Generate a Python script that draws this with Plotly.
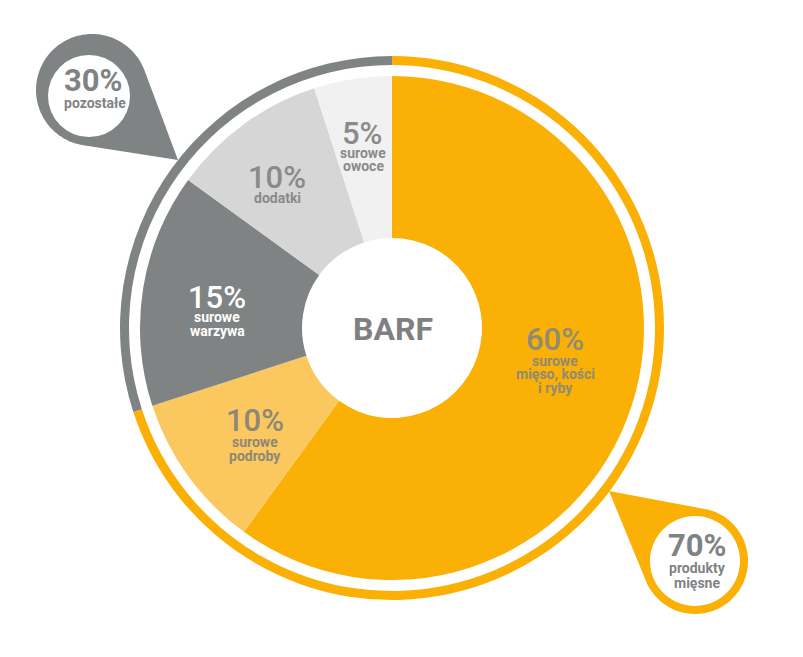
import numpy as np
import plotly.graph_objects as go

W, H = 803, 657
OFF = 8  # default page body margin

# ---- data ----
slice_labels = ["surowe mięso, kości i ryby", "surowe podroby", "surowe warzywa", "dodatki", "surowe owoce"]
slice_values = [60, 10, 15, 10, 5]
slice_colors = ["#FAB005", "#FAC85E", "#7F8383", "#D6D6D6", "#F1F1F1"]

group_labels = ["produkty mięsne", "pozostałe"]
group_values = [70, 30]
group_colors = ["#FAB005", "#808384"]

center_label = "BARF"

# ---- geometry helpers (pixels -> paper) ----
CX, CY = 392, 328
R_PIE, R_HOLE = 252, 90
R_RING_OUT, R_RING_IN = 272, 263


def px(x):
    return (x - OFF) / W


def py(y):
    return 1 - (y - OFF) / H


def dom(r):
    return dict(x=[px(CX - r), px(CX + r)], y=[py(CY + r), py(CY - r)])


fig = go.Figure()

fig.add_trace(go.Pie(
    labels=group_labels, values=group_values, sort=False, direction="clockwise",
    rotation=0, hole=R_RING_IN / R_RING_OUT, domain=dom(R_RING_OUT),
    marker=dict(colors=group_colors, line=dict(width=0)),
    textinfo="none", hoverinfo="label+percent", showlegend=False,
))

fig.add_trace(go.Pie(
    labels=slice_labels, values=slice_values, sort=False, direction="clockwise",
    rotation=0, hole=R_HOLE / R_PIE, domain=dom(R_PIE),
    marker=dict(colors=slice_colors, line=dict(width=0)),
    textinfo="none", hoverinfo="label+percent", showlegend=False,
))


def teardrop(cx, cy, r, tx, ty, n=80):
    d = np.hypot(tx - cx, ty - cy)
    th = np.arctan2(ty - cy, tx - cx)
    a = np.arccos(r / d)
    angs = np.linspace(th + a, th + 2 * np.pi - a, n)
    pts = [(tx, ty)] + [(cx + r * np.cos(t), cy + r * np.sin(t)) for t in angs]
    return "M " + " L ".join(f"{px(x):.5f},{py(y):.5f}" for x, y in pts) + " Z"


def circle(cx, cy, r, color):
    return dict(type="circle", xref="paper", yref="paper",
                x0=px(cx - r), x1=px(cx + r), y0=py(cy + r), y1=py(cy - r),
                fillcolor=color, line=dict(width=0), layer="above")


shapes = [
    dict(type="path", xref="paper", yref="paper", path=teardrop(92, 90, 56, 178, 160),
         fillcolor=group_colors[1], line=dict(width=0), layer="above"),
    circle(89, 96, 41, "white"),
    dict(type="path", xref="paper", yref="paper", path=teardrop(695, 561, 53, 609, 491),
         fillcolor=group_colors[0], line=dict(width=0), layer="above"),
    circle(695, 561, 45, "white"),
]

FONT = "Roboto"
anns = []


def txt(x, y, s, size, color, weight=400):
    anns.append(dict(x=px(x), y=py(y), xref="paper", yref="paper", text=s, showarrow=False,
                     xanchor="center", yanchor="middle",
                     font=dict(family=FONT, size=size, color=color, weight=weight)))


BIG = 31
SM = 14
c_orange = "#8E8B76"
c_lorange = "#8D877A"
c_gray = "#8A8A8A"
c_white = "#FFFFFF"

# 60%
txt(555, 339, f"{slice_values[0]}%", BIG, c_orange, 500)
txt(555, 361, "surowe", SM, c_orange, 700)
txt(555, 374, "mięso, kości", SM, c_orange, 700)
txt(555, 388, "i ryby", SM, c_orange, 700)
# 10% podroby
txt(255, 420, f"{slice_values[1]}%", BIG, c_lorange, 500)
txt(255, 442, "surowe", SM, c_lorange, 700)
txt(255, 456, "podroby", SM, c_lorange, 700)
# 15% warzywa
txt(217, 297, f"{slice_values[2]}%", BIG, c_white, 500)
txt(217, 317, "surowe", SM, c_white, 700)
txt(217, 331, "warzywa", SM, c_white, 700)
# 10% dodatki
txt(277, 177, f"{slice_values[3]}%", BIG, c_gray, 500)
txt(277, 198, "dodatki", SM, c_gray, 700)
# 5% owoce
txt(362, 133, f"{slice_values[4]}%", BIG, c_gray, 500)
txt(363, 153, "surowe", SM, c_gray, 700)
txt(363, 166, "owoce", SM, c_gray, 700)
# center
txt(393, 329, center_label, 32, "#808080", 700)
# bubbles
txt(93, 80, f"{group_values[1]}%", BIG, "#7F8383", 700)
txt(95, 103, group_labels[1], SM, "#7F8383", 700)
txt(697, 545, f"{group_values[0]}%", BIG, "#7F8383", 700)
txt(697, 568, "produkty", SM, "#7F8383", 700)
txt(697, 583, "mięsne", SM, "#7F8383", 700)

fig.update_layout(
    width=W, height=H, margin=dict(l=0, r=0, t=0, b=0),
    paper_bgcolor="white", plot_bgcolor="white",
    shapes=shapes, annotations=anns, showlegend=False,
)

fig.write_html("out.html")
